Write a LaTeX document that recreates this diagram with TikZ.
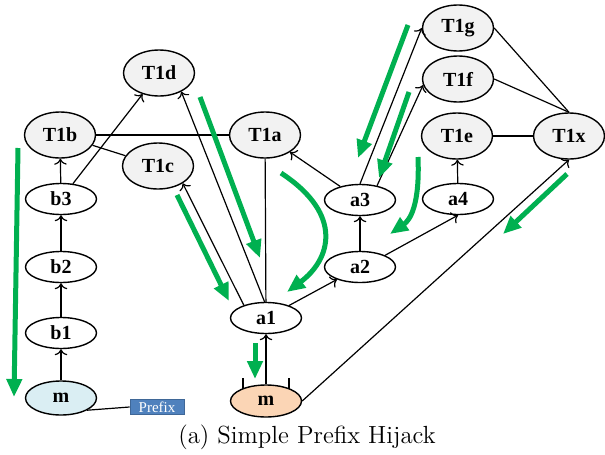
\documentclass[tikz,border=0pt]{standalone}
\usepackage{fontspec}
\newfontfamily\asfont{Liberation Serif}
\usetikzlibrary{arrows.meta,shapes.geometric}
\definecolor{hjGreen}{RGB}{0,176,80}
\definecolor{hjGray}{RGB}{242,242,242}
\definecolor{hjBlue}{RGB}{218,238,243}
\definecolor{hjPeach}{RGB}{251,213,181}
\definecolor{hjBox}{RGB}{79,129,189}

\begin{document}
\begin{tikzpicture}[x=0.5pt,y=-0.5pt,
    as/.style={ellipse,draw,line width=0.7pt,minimum width=35.5pt,minimum height=15.5pt,
      inner sep=0pt,font=\asfont\bfseries\fontsize{10}{12}\selectfont},
    tier/.style={as,fill=hjGray,minimum height=23pt},
    origin/.style={as,minimum height=17pt},
    link/.style={line width=0.6pt},
    arr/.style={link,-{To[length=3pt]}},
    flow/.style={line width=2.5pt,draw=hjGreen,-{Triangle[length=9pt,width=7.5pt]}}
  ]
  \useasboundingbox (0,0) rectangle (605,455);
  % tier-1 ASes
  \node[tier] (T1d) at (159,73)  {T1d};
  \node[tier] (T1b) at (60,135)  {T1b};
  \node[tier] (T1a) at (265,135) {T1a};
  \node[tier] (T1c) at (158,166) {T1c};
  \node[tier] (T1g) at (458,28)  {T1g};
  \node[tier] (T1f) at (458,79)  {T1f};
  \node[tier] (T1e) at (457,136) {T1e};
  \node[tier] (T1x) at (569,136) {T1x};
  % left branch
  \node[as] (b3) at (61,199) {b3};
  \node[as] (b2) at (61,267) {b2};
  \node[as] (b1) at (61,333) {b1};
  \node[origin,fill=hjBlue] (mv) at (61,398) {m};
  \node[draw=hjBox!80!black,fill=hjBox,text=white,font=\asfont\fontsize{7.5}{9}\selectfont,
    minimum width=27pt,minimum height=7.5pt,inner sep=0pt] (pfx) at (157,407) {Prefix};
  % right branch
  \node[as] (a1) at (266,318) {a1};
  \node[as] (a2) at (360,267) {a2};
  \node[as] (a3) at (360,200) {a3};
  \node[as] (a4) at (458,199) {a4};
  \node[origin,fill=hjPeach,minimum height=16pt] (mh) at (266,401) {m};
  \draw[line width=1.1pt] (243,378) -- (243,389);
  \draw[line width=1.1pt] (289,378) -- (289,389);

  \draw[arr] (mv) -- (b1);
  \draw[arr] (b1) -- (b2);
  \draw[arr] (b2) -- (b3);
  \draw[arr] (b3) -- (T1b);
  \draw[arr] (b3) -- (T1d);
  \draw[link] (T1b) -- (T1a);
  \draw[link] (T1b) -- (T1c);
  \draw[link] (mv.-25) -- (pfx.west);
  \draw[arr] (mh) -- (a1);
  \draw[arr] (a1.150) -- (T1c.-35);
  \draw[arr] (a1.95) -- (T1d.-40);
  \draw[link] (a1) -- (T1a);
  \draw[arr] (a1) -- (a2);
  \draw[arr] (a2) -- (a3);
  \draw[arr] (a3) -- (T1a);
  \draw[arr] (a3.north) -- (T1g.west);
  \draw[arr] (a3.40) -- (T1f.190);
  \draw[arr] (a2.25) -- (a4.south);
  \draw[arr] (a4) -- (T1e);
  \draw[link] (T1e) -- (T1x);
  \draw[link] (T1g.east) -- (T1x.north);
  \draw[link] (T1f.east) -- (T1x.north);
  \draw[arr] (mh.east) -- (T1x.south);

  % route propagation
  \draw[flow] (18,148) -- (14,397);
  \draw[flow] (200,97) -- (260,258);
  \draw[flow] (177,195) -- (229,301);
  \draw[flow] (281,173) .. controls (345,215) and (330,260) .. (287,292);
  \draw[flow] (255,343) -- (255,379);
  \draw[flow] (408,25) -- (358,158);
  \draw[flow] (409,92) -- (379,178);
  \draw[flow] (418,157) .. controls (420,205) and (410,220) .. (390,234);
  \draw[flow] (567,174) -- (503,234);

  \node (cap) at (307,437) {\fontsize{12.4}{15}\selectfont (a) Simple Prefix Hijack};
\end{tikzpicture}
\end{document}
